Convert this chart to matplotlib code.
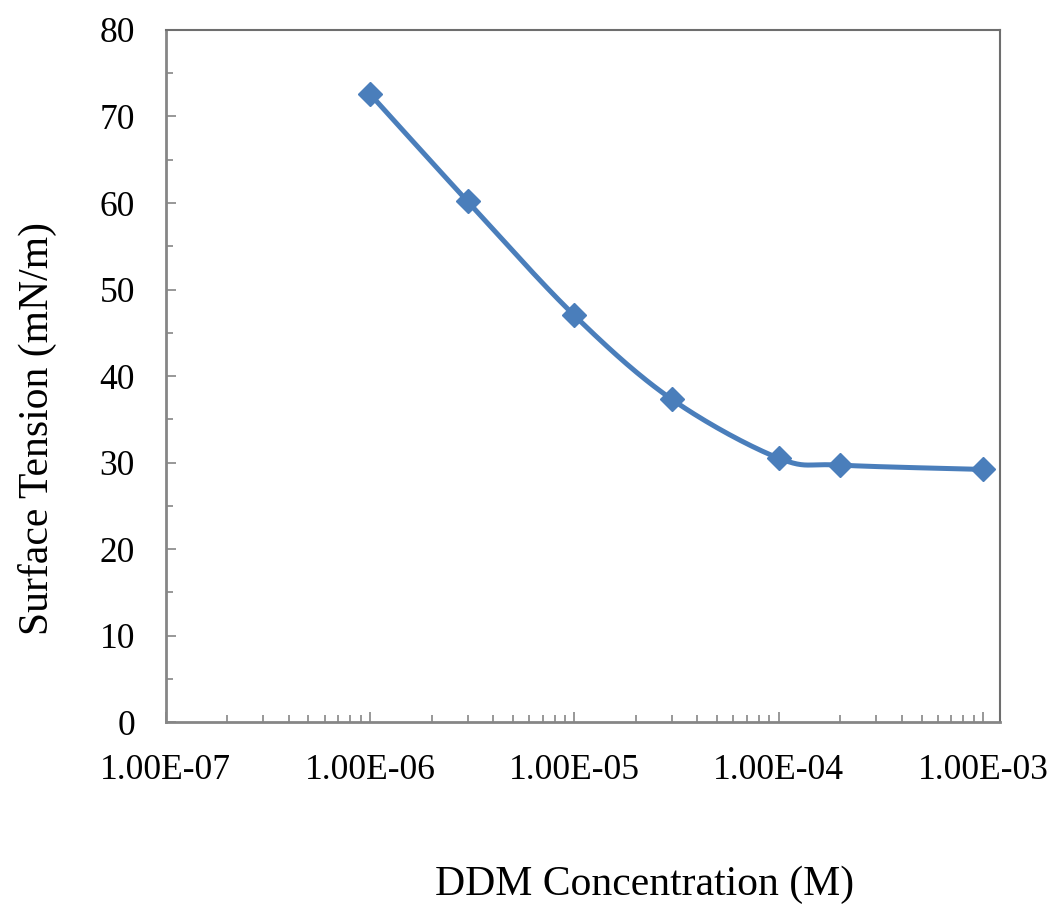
import numpy as np
import matplotlib.pyplot as plt
from matplotlib.ticker import LogLocator, MultipleLocator, NullFormatter, FixedFormatter, FixedLocator

# DDM concentration (M) vs measured surface tension (mN/m)
conc = [1e-6, 3e-6, 1e-5, 3e-5, 1e-4, 2e-4, 1e-3]
tension = [72.6, 60.2, 47.0, 37.3, 30.5, 29.7, 29.2]
xtick_vals = [1e-7, 1e-6, 1e-5, 1e-4, 1e-3]
xtick_labels = ["1.00E-07", "1.00E-06", "1.00E-05", "1.00E-04", "1.00E-03"]

plt.rcParams['font.family'] = ['Liberation Serif', 'DejaVu Serif']

def smooth(xs, ys, n=40):
    # catmull-rom style bezier through the points, in log-x space
    px = np.log10(xs)
    py = np.array(ys, dtype=float)
    P = np.column_stack([px, py])
    P = np.vstack([P[0], P, P[-1]])
    out = []
    for i in range(1, len(P) - 2):
        p0, p1, p2, p3 = P[i - 1], P[i], P[i + 1], P[i + 2]
        c1 = p1 + (p2 - p0) / 6.0
        c2 = p2 - (p3 - p1) / 6.0
        t = np.linspace(0, 1, n)[:, None]
        seg = ((1 - t) ** 3) * p1 + 3 * ((1 - t) ** 2) * t * c1 + 3 * (1 - t) * t ** 2 * c2 + t ** 3 * p2
        out.append(seg)
    out = np.vstack(out)
    return 10 ** out[:, 0], out[:, 1]

fig = plt.figure(figsize=(10.55, 9.09), dpi=100)
ax = fig.add_axes([0.157, 0.2057, 0.791, 0.7613])

blue = "#4A7EBB"
sx, sy = smooth(conc, tension)
ax.plot(sx, sy, color=blue, lw=3.6, solid_capstyle='round')
ax.plot(conc, tension, linestyle='none', marker='D', markersize=12, color=blue)

ax.set_xscale('log')
ax.set_xlim(1e-7, 10 ** (-3 + 17 / 204))
ax.set_ylim(0, 80)

ax.xaxis.set_major_locator(FixedLocator(xtick_vals))
ax.xaxis.set_major_formatter(FixedFormatter(xtick_labels))
ax.xaxis.set_minor_locator(LogLocator(base=10, subs=np.arange(2, 10)))
ax.xaxis.set_minor_formatter(NullFormatter())
ax.yaxis.set_major_locator(MultipleLocator(10))
ax.yaxis.set_minor_locator(MultipleLocator(5))

ax.tick_params(which='both', direction='in', colors='#868686', labelcolor='black',
               labelsize=25.5, top=False, right=False)
ax.tick_params(which='major', length=7.5, width=1.2)
ax.tick_params(which='minor', length=5, width=1.2)
ax.tick_params(axis='x', which='major', pad=23)
ax.tick_params(axis='y', which='major', pad=22)

for side in ['left', 'bottom']:
    ax.spines[side].set_color('#868686')
    ax.spines[side].set_linewidth(2)
for side in ['top', 'right']:
    ax.spines[side].set_color('#6e6e6e')
    ax.spines[side].set_linewidth(1.5)

fig.text(0.036, 0.529, "Surface Tension (mN/m)", rotation=90, fontsize=30,
         ha='center', va='center')
fig.text(0.611, 0.027, "DDM Concentration (M)", fontsize=30, ha='center', va='center')

fig.savefig("out.png", dpi=100)
